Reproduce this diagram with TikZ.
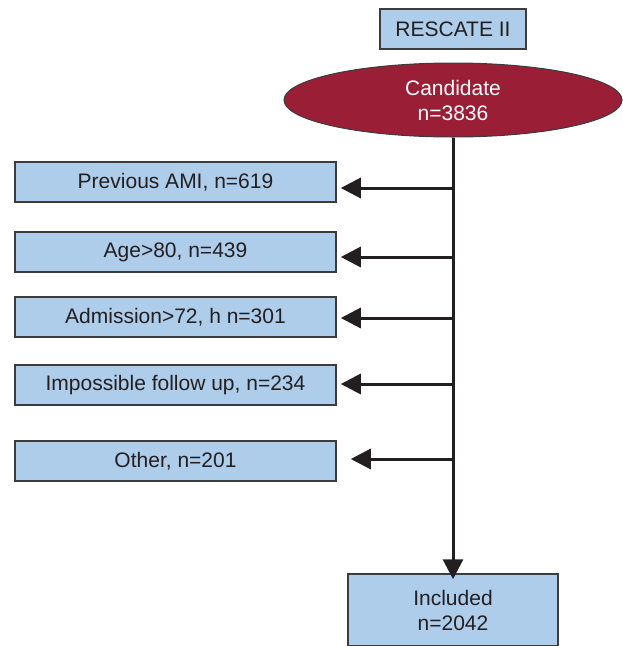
\documentclass[tikz,border=0pt]{standalone}
\usepackage{fontspec}
\setmainfont{Liberation Sans}
\usetikzlibrary{shapes.geometric,arrows.meta}
\definecolor{boxblue}{RGB}{174,205,235}
\definecolor{darkred}{RGB}{155,30,55}
\definecolor{edge}{RGB}{60,60,60}
\definecolor{txt}{RGB}{35,31,32}
\tikzset{
  bluebox/.style={draw=edge, line width=1.5pt, fill=boxblue, text=txt, inner sep=0pt, font=\fontsize{21}{25}\selectfont, align=center},
  arr/.style={line width=3pt, draw=txt, -{Triangle[length=20pt,width=20pt]}},
}
\begin{document}
\begin{tikzpicture}[x=1pt,y=-1pt]
\useasboundingbox (0,0) rectangle (623,646);
\node[bluebox, minimum width=146pt, minimum height=40pt] (res) at (453,29) {RESCATE II};
\node[ellipse, draw=edge, line width=1pt, fill=darkred, text=white, minimum width=338pt, minimum height=74pt, inner sep=0pt, align=center, font=\fontsize{21}{25}\selectfont] (cand) at (453,100) {Candidate\\n=3836};
\node[bluebox, minimum width=321pt, minimum height=40pt] (b1) at (175.5,182) {Previous AMI, n=619};
\node[bluebox, minimum width=321pt, minimum height=40pt] (b2) at (175.5,252) {Age>80, n=439};
\node[bluebox, minimum width=321pt, minimum height=40pt] (b3) at (175.5,317) {Admission>72, h n=301};
\node[bluebox, minimum width=321pt, minimum height=40pt] (b4) at (175.5,385) {Impossible follow up, n=234};
\node[bluebox, minimum width=321pt, minimum height=40pt] (b5) at (175.5,461) {Other, n=201};
\node[bluebox, minimum width=210pt, minimum height=72pt] (inc) at (453,610) {Included\\n=2042};
\coordinate (j1) at (453,188);
\coordinate (j2) at (453,257);
\coordinate (j3) at (453,318);
\coordinate (j4) at (453,384);
\coordinate (j5) at (453,459);
\draw[arr] (cand.south) -- ([yshift=-6pt]inc.north);
\draw[arr] (j1) -- ([xshift=4pt]b1.east |- j1);
\draw[arr] (j2) -- ([xshift=4pt]b2.east |- j2);
\draw[arr] (j3) -- ([xshift=4pt]b3.east |- j3);
\draw[arr] (j4) -- ([xshift=4pt]b4.east |- j4);
\draw[arr] (j5) -- ([xshift=14pt]b5.east |- j5);
\end{tikzpicture}
\end{document}
